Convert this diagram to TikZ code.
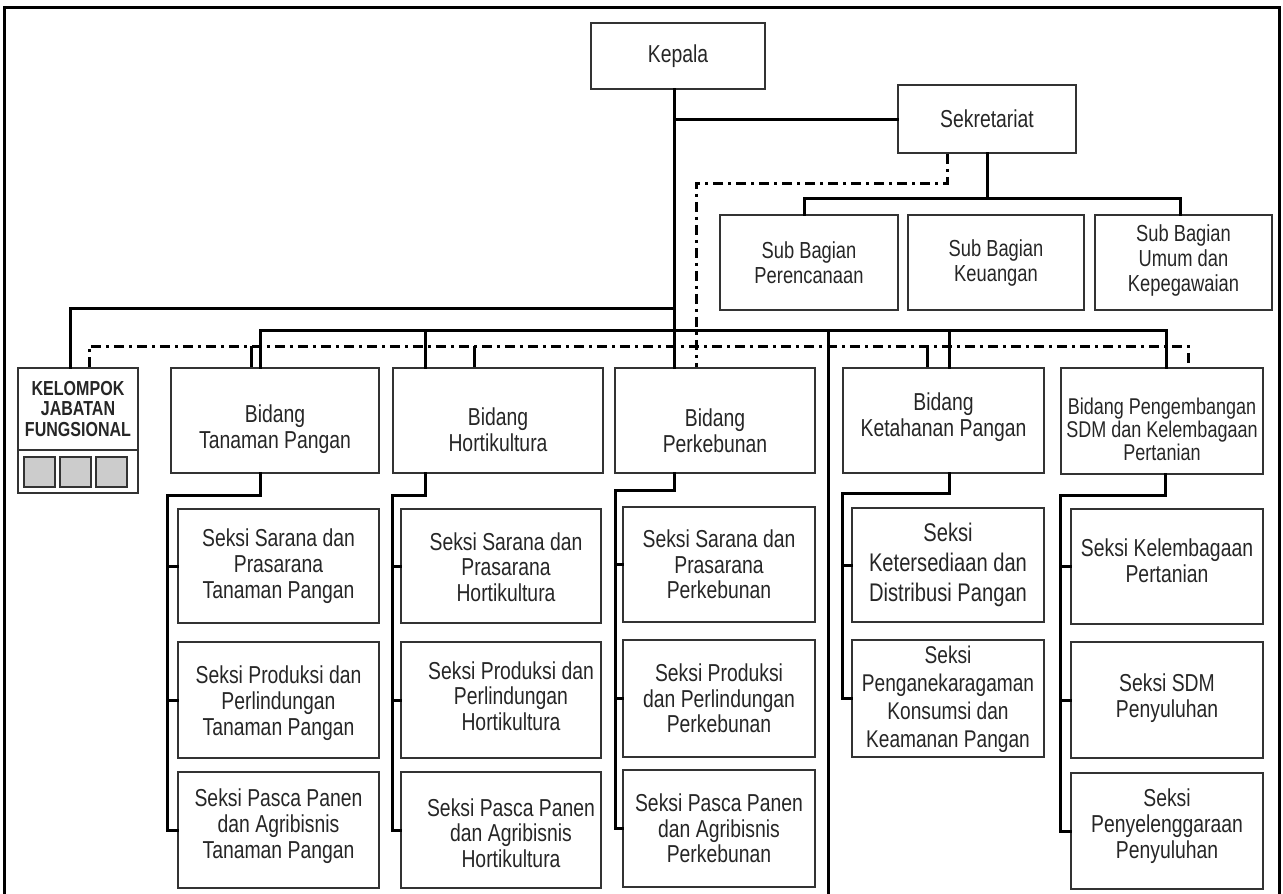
\documentclass[tikz,border=0pt]{standalone}
\usepackage{fontspec}
\setmainfont{Liberation Sans}[FakeStretch=0.79]
% [text options]{name}{x1}{y1}{x2}{y2}{text dx}{text dy}{text}
\newcommand\mybox[9][]{%
  \node[box,minimum width={#5-#3},minimum height={#6-#4}] (#2) at ({(#3+#5)/2},{(#4+#6)/2}) {};
  \node[boxtext,#1] (#2-t) at ([shift={(#7,#8)}]#2.center) {#9};}
\begin{document}
\begin{tikzpicture}[x=1pt,y=-1pt,
  box/.style={draw=black!80, line width=1.6pt, inner sep=0pt},
  boxtext/.style={align=center, inner sep=0pt, text=black!85,
    font=\fontsize{24.5}{25.7}\selectfont},
  subf/.style={font=\fontsize{23.2}{25}\selectfont},
  sdmf/.style={font=\fontsize{22.8}{23}\selectfont},
  kelf/.style={font=\bfseries\fontsize{20.3}{20.7}\selectfont},
  sq/.style={draw=black!80, fill=black!20, line width=1.3pt, inner sep=0pt, minimum width=31, minimum height=30},
  conn/.style={line width=3pt, line join=miter, line cap=rect},
  stub/.style={line width=3pt},
  dd/.style={line width=3pt, dash pattern=on 10pt off 5pt on 3pt off 5pt}]
\useasboundingbox (0,0) rectangle (1283,894);
% outer frame
\draw[line width=3pt] (4,894) -- (4,7) -- (1279,7) -- (1279,894);

% boxes
\mybox{kepala}{591}{23}{765}{89}{0}{0}{Kepala}
\mybox{sekr}{898}{85}{1076}{153}{0}{0}{Sekretariat}
\mybox[subf]{sb1}{720}{215}{898}{310}{0}{0}{Sub Bagian\\Perencanaan}
\mybox[subf]{sb2}{908}{215}{1084}{310}{0}{0}{Sub Bagian\\Keuangan}
\mybox[subf]{sb3}{1095}{215}{1272}{310}{0}{-2}{Sub Bagian\\Umum dan\\Kepegawaian}

\mybox[kelf]{kel}{18}{368}{138}{450}{0}{0}{KELOMPOK\\JABATAN\\FUNGSIONAL}
\node[box,minimum width=120,minimum height=43] (kelb) at (78,471.5) {};
\node[sq] (q1) at (39.5,472) {};
\node[sq] (q2) at (75.5,472) {};
\node[sq] (q3) at (111.5,472) {};

\mybox{btp}{171}{368}{379}{473}{0}{9}{Bidang\\Tanaman Pangan}
\mybox{bh}{393}{368}{603}{473}{0}{9}{Bidang\\Hortikultura}
\mybox{bp}{615}{368}{815}{473}{0}{10}{Bidang\\Perkebunan}
\mybox{bkp}{843}{368}{1044}{473}{0}{-3}{Bidang\\Ketahanan Pangan}
\mybox[sdmf]{bsdm}{1061}{368}{1263}{474}{0}{8}{Bidang Pengembangan\\SDM dan Kelembagaan\\Pertanian}

\mybox{s11}{178}{509}{379}{623}{0}{0}{Seksi Sarana dan\\Prasarana\\Tanaman Pangan}
\mybox{s12}{178}{642}{379}{758}{0}{3}{Seksi Produksi dan\\Perlindungan\\Tanaman Pangan}
\mybox{s13}{178}{772}{379}{888}{0}{-4}{Seksi Pasca Panen\\dan Agribisnis\\Tanaman Pangan}

\mybox{s21}{401}{509}{601}{623}{5}{1}{Seksi Sarana dan\\Prasarana\\Hortikultura}
\mybox{s22}{401}{642}{601}{758}{10}{-4}{Seksi Produksi dan\\Perlindungan\\Hortikultura}
\mybox{s23}{401}{772}{601}{888}{10}{3}{Seksi Pasca Panen\\dan Agribisnis\\Hortikultura}

\mybox{s31}{623}{507}{815}{622}{0}{0}{Seksi Sarana dan\\Prasarana\\Perkebunan}
\mybox{s32}{623}{640}{815}{757}{0}{0}{Seksi Produksi\\dan Perlindungan\\Perkebunan}
\mybox{s33}{623}{770}{815}{887}{0}{0}{Seksi Pasca Panen\\dan Agribisnis\\Perkebunan}

\mybox[font=\fontsize{25.5}{30}\selectfont]{s41}{852}{508}{1044}{622}{0}{0}{Seksi\\Ketersediaan dan\\Distribusi Pangan}
\mybox[font=\fontsize{24.2}{28}\selectfont]{s42}{852}{640}{1044}{757}{0}{1}{Seksi\\Penganekaragaman\\Konsumsi dan\\Keamanan Pangan}

\mybox{s51}{1071}{509}{1263}{624}{0}{-6}{Seksi Kelembagaan\\Pertanian}
\mybox{s52}{1071}{642}{1263}{758}{0}{-2}{Seksi SDM\\Penyuluhan}
\mybox{s53}{1071}{773}{1263}{889}{0}{-5}{Seksi\\Penyelenggaraan\\Penyuluhan}

% bus coordinates
\coordinate (sbus) at (0,198);
\coordinate (kbus) at (0,308);
\coordinate (mbus) at (0,330);
\coordinate (dbus) at (0,346);
\coordinate (sd) at (0,183);
\coordinate (lv) at (828,894);

% Kepala trunk and Sekretariat
\draw[conn] ([xshift=-4pt]kepala.south) -- ([xshift=-4pt]kepala.south |- bp.north);
\draw[conn] ([xshift=-4pt]kepala.south |- sekr.west) -- (sekr.west);
\draw[conn] (sekr.south) -- (sekr.south |- sbus);
\draw[conn] ([xshift=-5pt]sb1.north) -- ([xshift=-5pt]sb1.north |- sbus) -| ([xshift=-3pt]sb3.north);

% Kelompok line
\draw[conn] ([xshift=-8pt]kel.north) |- ([xshift=-4pt]kepala.south |- kbus);

% main bus
\draw[conn] ([xshift=-15pt]btp.north) |- ([xshift=4pt]bsdm.north |- mbus) -- ([xshift=4pt]bsdm.north);
\draw[conn] ([xshift=-73pt]bh.north) -- ([xshift=-73pt]bh.north |- mbus);
\draw[conn] (lv |- mbus) -- (lv);
\draw[conn] ([xshift=5.5pt]bkp.north) -- ([xshift=5.5pt]bkp.north |- mbus);

% dash-dot coordination lines
\draw[dd] ([xshift=11pt]kel.north) |- ([xshift=26pt]bsdm.north |- dbus) -- ([xshift=26pt]bsdm.north);
\draw[dd] ([xshift=-40pt]sekr.south) |- ([xshift=-19pt]bp.north |- sd) -- ([xshift=-19pt]bp.north);
\draw[stub] ([xshift=-24pt]btp.north) -- ([xshift=-24pt]btp.north |- dbus);
\draw[stub] ([xshift=-24pt]bh.north) -- ([xshift=-24pt]bh.north |- dbus);
\draw[stub] ([xshift=-16.5pt]bkp.north) -- ([xshift=-16.5pt]bkp.north |- dbus);

% seksi connectors
\draw[conn] ([xshift=-15pt]btp.south) -- ++(0,22) -| ([xshift=-10pt]s13.west) -- (s13.west);
\draw[conn] (s11.west) -- ++(-10,0);
\draw[conn] (s12.west) -- ++(-10,0);

\draw[conn] ([xshift=-73pt]bh.south) -- ++(0,22) -| ([xshift=-8pt]s23.west) -- (s23.west);
\draw[conn] (s21.west) -- ++(-8,0);
\draw[conn] (s22.west) -- ++(-8,0);

\draw[conn] ([xshift=-4pt]kepala.south |- bp.south) -- ++(0,17) -| ([xshift=-7pt]s33.west) -- (s33.west);
\draw[conn] (s31.west) -- ++(-7,0);
\draw[conn] (s32.west) -- ++(-7,0);

\draw[conn] ([xshift=5.5pt]bkp.south) -- ++(0,20) -| ([xshift=-9pt]s42.west) -- (s42.west);
\draw[conn] (s41.west) -- ++(-9,0);

\draw[conn] ([xshift=3pt]bsdm.south) -- ++(0,21) -| ([xshift=-10pt]s53.west) -- (s53.west);
\draw[conn] (s51.west) -- ++(-10,0);
\draw[conn] (s52.west) -- ++(-10,0);
\end{tikzpicture}
\end{document}
